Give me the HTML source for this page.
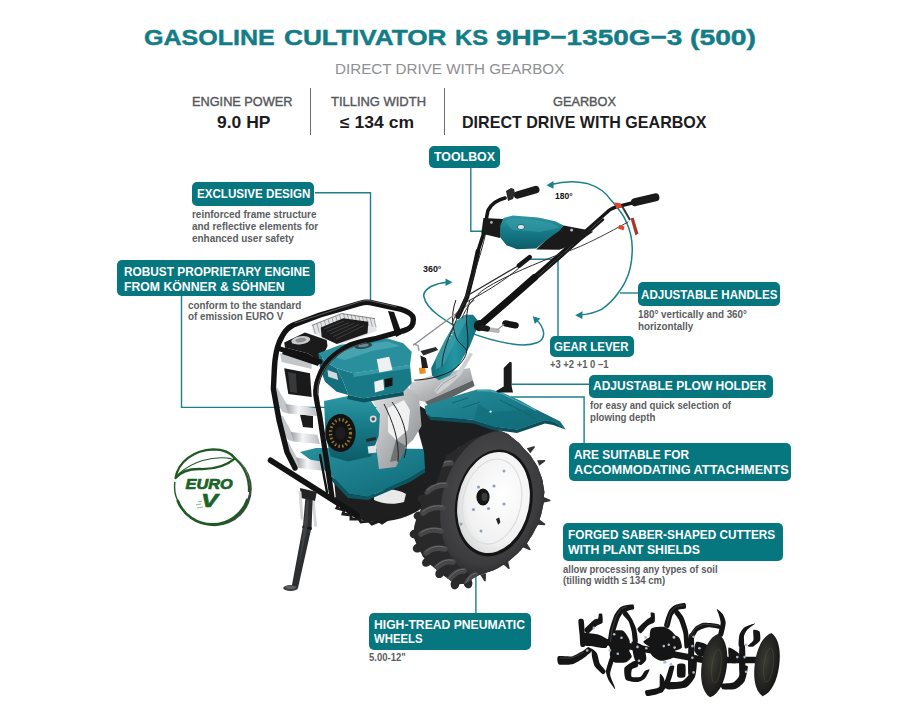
<!DOCTYPE html>
<html>
<head>
<meta charset="utf-8">
<title>Gasoline cultivator KS 9HP-1350G-3 (500)</title>
<style>
html,body{margin:0;padding:0;background:#fff;}
body{width:900px;height:713px;position:relative;overflow:hidden;font-family:"Liberation Sans",sans-serif;}
.t{position:absolute;white-space:nowrap;display:inline-block;transform-origin:0 50%;}
.b{position:absolute;background:#06767f;border-radius:5px;}
.vsep{position:absolute;width:1.3px;background:#6d6d6d;top:88px;height:47px;}
#art{position:absolute;left:0;top:0;}
</style>
</head>
<body>
<!--ART-->
<svg id="art" width="900" height="713" viewBox="0 0 900 713">
<defs>
<linearGradient id="tealV" x1="0" y1="0" x2="0" y2="1"><stop offset="0" stop-color="#2f98a5"/><stop offset="0.4" stop-color="#187e8b"/><stop offset="1" stop-color="#0c5c68"/></linearGradient>
<linearGradient id="tealH" x1="0" y1="0" x2="1" y2="0"><stop offset="0" stop-color="#0f6e7a"/><stop offset="0.5" stop-color="#2396a2"/><stop offset="1" stop-color="#0f6e7a"/></linearGradient>
<linearGradient id="tealF" x1="0" y1="0" x2="1" y2="1"><stop offset="0" stop-color="#2a8f9c"/><stop offset="0.55" stop-color="#187987"/><stop offset="1" stop-color="#0e6470"/></linearGradient>
<linearGradient id="silv" x1="0" y1="0" x2="1" y2="1"><stop offset="0" stop-color="#e8e8e8"/><stop offset="0.5" stop-color="#b4b6b8"/><stop offset="1" stop-color="#85888b"/></linearGradient>
<linearGradient id="strip" x1="0" y1="0" x2="1" y2="0"><stop offset="0" stop-color="#9a9ea3"/><stop offset="0.4" stop-color="#f4f5f6"/><stop offset="1" stop-color="#b9bcc0"/></linearGradient>
<radialGradient id="tire" cx="0.45" cy="0.45" r="0.6"><stop offset="0" stop-color="#565658"/><stop offset="0.78" stop-color="#3c3c3e"/><stop offset="1" stop-color="#262627"/></radialGradient>
<radialGradient id="hub" cx="0.6" cy="0.4" r="0.7"><stop offset="0" stop-color="#ffffff"/><stop offset="0.7" stop-color="#f1f1f1"/><stop offset="1" stop-color="#cfd0d1"/></radialGradient>
<radialGradient id="disc" cx="0.4" cy="0.45" r="0.7"><stop offset="0" stop-color="#3a3a36"/><stop offset="1" stop-color="#111"/></radialGradient>
<filter id="soft" x="-5%" y="-5%" width="110%" height="110%"><feGaussianBlur stdDeviation="0.5"/></filter>
<filter id="soft2" x="-5%" y="-5%" width="110%" height="110%"><feGaussianBlur stdDeviation="0.9"/></filter>
</defs>
<g id="lines" fill="none" stroke="#1a808a" stroke-width="1.4">
<path d="M470.8 167V231.2H502"/>
<path d="M315 192.8H370.5V303"/>
<path d="M181.5 296V407.4H399"/>
<path d="M558 336V259.2H530"/>
<path d="M638 293H620"/>
<path d="M590 384.2H512"/>
<path d="M584.1 443V397H511"/>
<path d="M475.9 613V573.4"/>
</g>
<g id="arcs" fill="none" stroke="#1a808a" stroke-width="1.5" stroke-linecap="round">
<path d="M551 184.6C565 181 578 181.5 587 183.4C599 187 607 194 611.4 200.6C618 208 623 214 626 221.3C631 232 632.6 241 632.2 250.7C632 262 630 272 626 280C624 285 621 289 618.7 292.2C614 299 608 305 601.6 309.4C594 313 587 314.6 580 315"/>
<path d="M447 282.2C441 282.6 436 284 431 286.5C425 290 423 293.5 424 297C425 302 430 309 438 315C447 322 457 327.5 467.3 331.6C481 337 497 341.6 512.2 344C521 345.4 530 345.4 536.9 342.8C541.5 341 544 337.5 543.6 332.7C543 328 540 323 536 319.5"/>
</g>
<g fill="#1a808a">
<path d="M546.5 185.2L553.5 181V188.8Z"/>
<path d="M575.2 315.2L582.5 311.2L582.3 318.9Z"/>
<path d="M452.5 282.2L445.5 278.4V286Z"/>
<path d="M532.8 316.2L540.2 318.6L534.8 324Z"/>
</g>
<g id="machine">
<g id="rearwheel">
<path d="M334 480C338 470 352 466 372 468L418 466L430 452L432 500L422 508C410 517 392 522 374 522C356 521 342 512 336 500Z" fill="#1e1e1f"/>
<path d="M374 492C386 488 398 489 406 494L404 502C394 505 382 504 374 500Z" fill="#e9e9e9"/>
<path d="M337 498l-4 3 6 3 -2 4 7 2 -1 4 8 1 0 4 8 0 2 3 8-1 3 3 7-3 3 2 6-4" fill="none" stroke="#1c1c1d" stroke-width="3"/>
</g>
<path d="M300 452L316 448L441 449L446 456L410 478L368 497L349 494L332 476Z" fill="url(#tealF)"/>
<path d="M332 476L349 494L368 497L410 478L446 456L446 459L410 482L368 500L348 498L330 479Z" fill="#0a5661"/>
<g id="wheel"><clipPath id="tireclip"><path d="M488.0 429.0C496.0 429.0 492.6 428.0 501.3 431.3C510.0 434.6 506.0 432.8 514.0 439.0C522.0 445.2 518.6 442.7 525.3 450.0C532.0 457.3 529.1 453.3 534.0 461.0C538.9 468.7 536.8 464.3 540.0 473.0C543.2 481.7 542.3 479.0 543.6 487.0C544.9 495.0 544.3 490.0 544.0 497.0C543.7 504.0 544.3 500.0 542.6 508.0C540.9 516.0 541.6 513.6 539.0 521.0C536.4 528.4 538.1 523.9 534.8 530.2C531.5 536.5 532.6 534.5 529.0 540.0C525.4 545.5 529.2 540.8 523.9 546.6C518.6 552.4 520.9 550.8 513.0 557.5C505.1 564.2 509.3 561.5 500.2 566.7C491.1 571.9 493.5 569.8 485.6 573.0C477.7 576.2 482.4 573.4 476.5 576.4C470.6 579.4 472.8 579.5 468.0 582.0C463.2 584.5 466.3 583.7 462.0 584.0C457.7 584.3 460.0 585.0 455.0 583.0C450.0 581.0 453.0 582.3 447.0 578.0C441.0 573.7 443.8 575.7 437.0 570.0C430.2 564.3 432.4 567.3 426.7 561.0C421.0 554.7 423.6 557.0 420.0 551.0C416.4 545.0 418.0 549.0 416.0 543.0C414.0 537.0 414.0 540.7 414.0 533.0C414.0 525.3 414.0 527.2 416.0 520.0C418.0 512.8 417.8 518.6 420.0 511.3C422.2 504.0 419.6 507.8 422.7 498.0C425.8 488.2 425.3 492.2 429.3 482.0C433.3 471.8 429.8 476.6 434.7 467.3C439.6 458.0 438.2 461.4 444.0 454.0C449.8 446.6 446.2 450.8 452.0 445.0C457.8 439.2 455.3 440.7 461.3 436.7C467.3 432.7 464.7 434.8 470.0 433.0C475.3 431.2 471.3 432.6 477.3 431.3C483.3 430.0 480.0 429.0 488.0 429.0Z"/></clipPath>
<path d="M-3 -3L4.6 -0.5L4.2 0.8L-3 3Z" fill="#333334" transform="translate(541 462) rotate(-20)"/><path d="M-3 -3L4.6 -0.5L4.2 0.8L-3 3Z" fill="#333334" transform="translate(546 500) rotate(5)"/><path d="M-3 -3L4.6 -0.5L4.2 0.8L-3 3Z" fill="#333334" transform="translate(541 523) rotate(20)"/><path d="M-3 -3L4.6 -0.5L4.2 0.8L-3 3Z" fill="#333334" transform="translate(527 547) rotate(40)"/><path d="M-3 -3L4.6 -0.5L4.2 0.8L-3 3Z" fill="#333334" transform="translate(507 565) rotate(58)"/><path d="M-3 -3L4.6 -0.5L4.2 0.8L-3 3Z" fill="#333334" transform="translate(484 577) rotate(75)"/><path d="M-3 -3L4.6 -0.5L4.2 0.8L-3 3Z" fill="#333334" transform="translate(531 449) rotate(-35)"/><ellipse cx="446" cy="452" rx="5.4" ry="4.4" fill="#2a2a2b" transform="rotate(-140 446 452)"/><ellipse cx="436" cy="467" rx="5.4" ry="4.4" fill="#2a2a2b" transform="rotate(-150 436 467)"/><ellipse cx="430" cy="482" rx="5.4" ry="4.4" fill="#2a2a2b" transform="rotate(-160 430 482)"/><ellipse cx="423" cy="499" rx="5.4" ry="4.4" fill="#2a2a2b" transform="rotate(-168 423 499)"/><ellipse cx="419" cy="516" rx="5.4" ry="4.4" fill="#2a2a2b" transform="rotate(-178 419 516)"/><ellipse cx="415" cy="534" rx="5.4" ry="4.4" fill="#2a2a2b" transform="rotate(175 415 534)"/><ellipse cx="418" cy="548" rx="5.4" ry="4.4" fill="#2a2a2b" transform="rotate(160 418 548)"/><ellipse cx="427" cy="562" rx="5.4" ry="4.4" fill="#2a2a2b" transform="rotate(140 427 562)"/><ellipse cx="440" cy="573" rx="5.4" ry="4.4" fill="#2a2a2b" transform="rotate(125 440 573)"/><ellipse cx="455" cy="584" rx="5.4" ry="4.4" fill="#2a2a2b" transform="rotate(100 455 584)"/><ellipse cx="468" cy="583" rx="5.4" ry="4.4" fill="#2a2a2b" transform="rotate(80 468 583)"/>
<path d="M488.0 429.0C496.0 429.0 492.6 428.0 501.3 431.3C510.0 434.6 506.0 432.8 514.0 439.0C522.0 445.2 518.6 442.7 525.3 450.0C532.0 457.3 529.1 453.3 534.0 461.0C538.9 468.7 536.8 464.3 540.0 473.0C543.2 481.7 542.3 479.0 543.6 487.0C544.9 495.0 544.3 490.0 544.0 497.0C543.7 504.0 544.3 500.0 542.6 508.0C540.9 516.0 541.6 513.6 539.0 521.0C536.4 528.4 538.1 523.9 534.8 530.2C531.5 536.5 532.6 534.5 529.0 540.0C525.4 545.5 529.2 540.8 523.9 546.6C518.6 552.4 520.9 550.8 513.0 557.5C505.1 564.2 509.3 561.5 500.2 566.7C491.1 571.9 493.5 569.8 485.6 573.0C477.7 576.2 482.4 573.4 476.5 576.4C470.6 579.4 472.8 579.5 468.0 582.0C463.2 584.5 466.3 583.7 462.0 584.0C457.7 584.3 460.0 585.0 455.0 583.0C450.0 581.0 453.0 582.3 447.0 578.0C441.0 573.7 443.8 575.7 437.0 570.0C430.2 564.3 432.4 567.3 426.7 561.0C421.0 554.7 423.6 557.0 420.0 551.0C416.4 545.0 418.0 549.0 416.0 543.0C414.0 537.0 414.0 540.7 414.0 533.0C414.0 525.3 414.0 527.2 416.0 520.0C418.0 512.8 417.8 518.6 420.0 511.3C422.2 504.0 419.6 507.8 422.7 498.0C425.8 488.2 425.3 492.2 429.3 482.0C433.3 471.8 429.8 476.6 434.7 467.3C439.6 458.0 438.2 461.4 444.0 454.0C449.8 446.6 446.2 450.8 452.0 445.0C457.8 439.2 455.3 440.7 461.3 436.7C467.3 432.7 464.7 434.8 470.0 433.0C475.3 431.2 471.3 432.6 477.3 431.3C483.3 430.0 480.0 429.0 488.0 429.0Z" fill="#29292a"/>
<g clip-path="url(#tireclip)">
<g transform="rotate(13 493 503)"><ellipse cx="493.4" cy="504" rx="51.6" ry="74" fill="url(#tire)"/></g>
<path d="M449 440Q456 432 464 433" stroke="#474749" stroke-width="5.6" fill="none" stroke-linecap="round"/><path d="M449 438.2Q456 430 464 431.2" stroke="#6c6c6e" stroke-width="1" fill="none" stroke-linecap="round"/><path d="M440 455Q448 446 457 446" stroke="#474749" stroke-width="5.6" fill="none" stroke-linecap="round"/><path d="M440 453.2Q448 444 457 444.2" stroke="#6c6c6e" stroke-width="1" fill="none" stroke-linecap="round"/><path d="M433 472Q441 462 451 463" stroke="#474749" stroke-width="5.6" fill="none" stroke-linecap="round"/><path d="M433 470.2Q441 461 451 461.2" stroke="#6c6c6e" stroke-width="1" fill="none" stroke-linecap="round"/><path d="M427 492Q436 484 446 485" stroke="#474749" stroke-width="5.6" fill="none" stroke-linecap="round"/><path d="M427 490.2Q436 482 446 483.2" stroke="#6c6c6e" stroke-width="1" fill="none" stroke-linecap="round"/><path d="M423 513Q432 506 443 508" stroke="#474749" stroke-width="5.6" fill="none" stroke-linecap="round"/><path d="M423 511.2Q432 504 443 506.2" stroke="#6c6c6e" stroke-width="1" fill="none" stroke-linecap="round"/><path d="M421 534Q430 528 441 531" stroke="#474749" stroke-width="5.6" fill="none" stroke-linecap="round"/><path d="M421 532.2Q430 526 441 529.2" stroke="#6c6c6e" stroke-width="1" fill="none" stroke-linecap="round"/><path d="M426 553Q434 546 445 549" stroke="#474749" stroke-width="5.6" fill="none" stroke-linecap="round"/><path d="M426 551.2Q434 544 445 547.2" stroke="#6c6c6e" stroke-width="1" fill="none" stroke-linecap="round"/><path d="M436 568Q444 560 453 562" stroke="#474749" stroke-width="5.6" fill="none" stroke-linecap="round"/><path d="M436 566.2Q444 558 453 560.2" stroke="#6c6c6e" stroke-width="1" fill="none" stroke-linecap="round"/><path d="M449 580Q456 570 464 571" stroke="#474749" stroke-width="5.6" fill="none" stroke-linecap="round"/><path d="M449 578.2Q456 569 464 569.2" stroke="#6c6c6e" stroke-width="1" fill="none" stroke-linecap="round"/><path d="M466 585Q470 575 476 575" stroke="#474749" stroke-width="5.6" fill="none" stroke-linecap="round"/><path d="M466 583.2Q470 573 476 573.2" stroke="#6c6c6e" stroke-width="1" fill="none" stroke-linecap="round"/>
</g>
<g transform="rotate(12 494 502)">
<ellipse cx="494" cy="503" rx="38.2" ry="54" fill="#151516"/>
<ellipse cx="493.6" cy="502.6" rx="35.6" ry="51" fill="url(#hub)"/>
<ellipse cx="492" cy="502" rx="29" ry="43" fill="none" stroke="#dcddde" stroke-width="1.2"/>
</g>
<ellipse cx="483" cy="497" rx="6.6" ry="8.6" fill="#151515"/>
<ellipse cx="484.5" cy="497" rx="3" ry="4.2" fill="#3a3a3a"/>
<path d="M496 519l3.2-1.4 1.2 4.6 -2.2 2.6z" fill="#222"/>
<g fill="#8fa3b8">
<circle cx="478.5" cy="487" r="1.6"/><circle cx="494" cy="486" r="1.6"/><circle cx="504" cy="471" r="1.5"/>
<circle cx="473.5" cy="509.5" r="1.6"/><circle cx="488.5" cy="508.5" r="1.6"/><circle cx="504" cy="504" r="1.6"/>
<circle cx="461" cy="524" r="1.5"/><circle cx="481" cy="531" r="1.5"/>
</g>
</g>
<path d="M409.6 383.3L435.8 374L469.8 367.9L472.9 380.2L455.9 387.9L425 401.8L411.2 398.7Z" fill="url(#silv)"/>
<path d="M425 401.8L455.9 387.9L472.9 380.2L474.6 386L430 408Z" fill="#5f6366"/>
<path d="M420 406L430 412L470 420L500 428L470 440L446 456L436 484L426 486L424 452L418 430Z" fill="#1d1e1f"/>
<path d="M371 398L406 386L419 396L421.5 426L413 440L406 446L396 467L379 469L376 446L380 414Z" fill="url(#silv)"/>
<path d="M388 408L404 400L410 410L408 430L396 440L388 432Z" fill="#f1f1f1"/>
<path d="M396 440l10 6 -6 14 -10 2z" fill="#6f7376"/>
<path d="M384 404C392 420 400 440 398 462M392 402C404 418 410 440 404 458" fill="none" stroke="#222" stroke-width="1"/>
<path d="M324 401L348 396L371 401L380 414L378.6 436L371 456.5L348 461.6L330.6 456.5L325.6 436Z" fill="url(#tealV)"/>
<ellipse cx="340.5" cy="433" rx="15.2" ry="19" fill="#121212"/>
<ellipse cx="340.5" cy="433" rx="10" ry="13.4" fill="none" stroke="#8a7430" stroke-width="3.2" stroke-dasharray="1.6 2.2"/>
<ellipse cx="340.5" cy="433" rx="5" ry="6.6" fill="#1d1d1d"/>
<circle cx="373.2" cy="419" r="3.4" fill="#d9dadb"/><circle cx="373.2" cy="419" r="1.8" fill="#4a4d50"/>
<rect x="368" y="446" width="8" height="7" fill="#e4e6e8" transform="rotate(-8 372 449)"/>
<rect x="366" y="438" width="10" height="3" fill="#27292b" transform="rotate(-12 371 439)"/>
<path d="M284.2 368.3L310 373.3L311.7 397L288.3 394Z" fill="#1a1a1b"/>
<path d="M288 372L296 373.6L297 393L290 392Z" fill="#38393a"/>
<path d="M280 353.3L311.7 363.3L311.7 369L281.7 362Z" fill="#c3c6c9"/>
<path d="M284.2 342.5L305 332.5L326.7 340L327.5 346L320 362L308.3 353.5L285 347.5Z" fill="#1b1b1c"/>
<path d="M285 347.5L308.3 353.5L320 362L318 366L282 354Z" fill="#121213"/>
<ellipse cx="300.8" cy="340.3" rx="9.6" ry="4" fill="#c8cacb" transform="rotate(-8 300.8 340.3)"/><ellipse cx="300.8" cy="340.1" rx="5.4" ry="2.2" fill="#8d9092" transform="rotate(-8 300.8 340.1)"/>
<path d="M388 311L394 312L402 334L396 337Z" fill="#151516"/>
<path d="M311.6 325L341.6 313.3L375 318.3L376.6 331L340 345L313 333Z" fill="#e3e4e5"/>
<path d="M313.0 325.0L315.4 334.0" stroke="#77797b" stroke-width="0.6"/><path d="M316.8 323.5L319.2 332.5" stroke="#77797b" stroke-width="0.6"/><path d="M320.6 322.1L323.0 331.1" stroke="#77797b" stroke-width="0.6"/><path d="M324.4 320.6L326.8 329.6" stroke="#77797b" stroke-width="0.6"/><path d="M328.2 319.2L330.6 328.2" stroke="#77797b" stroke-width="0.6"/><path d="M332.0 317.7L334.4 326.7" stroke="#77797b" stroke-width="0.6"/><path d="M335.8 316.2L338.2 325.2" stroke="#77797b" stroke-width="0.6"/><path d="M339.6 314.8L342.0 323.8" stroke="#77797b" stroke-width="0.6"/><path d="M343.4 313.3L345.8 322.3" stroke="#77797b" stroke-width="0.6"/><path d="M347.2 313.9L349.6 322.9" stroke="#77797b" stroke-width="0.6"/><path d="M351.0 314.6L353.4 323.6" stroke="#77797b" stroke-width="0.6"/><path d="M354.8 315.2L357.2 324.2" stroke="#77797b" stroke-width="0.6"/><path d="M358.6 315.8L361.0 324.8" stroke="#77797b" stroke-width="0.6"/><path d="M362.4 316.4L364.8 325.4" stroke="#77797b" stroke-width="0.6"/><path d="M366.2 317.0L368.6 326.0" stroke="#77797b" stroke-width="0.6"/><path d="M370.0 317.7L372.4 326.7" stroke="#77797b" stroke-width="0.6"/><path d="M373.8 318.3L376.2 327.3" stroke="#77797b" stroke-width="0.6"/>
<path d="M312 325.4L341.6 313.6L375 318.6" fill="none" stroke="#6c6e70" stroke-width="0.8"/>
<path d="M320.8 327.5L343.3 318.3L368.3 321.7L367.5 333.3L336.7 344L321.7 337Z" fill="#1c1c1d"/>
<path d="M324 329L344 321M327 331.6L349 322.6M330 334L354 323.4M333 336.6L359 324.4M336 339L364 325.6" stroke="#3f3f41" stroke-width="1"/>
<path d="M318.3 353.3L325 361.7L336.7 368.3L343.3 381.7L348.3 395L336.7 391.7L325 381.7L320 368.3Z" fill="#146e7b"/>
<path d="M336.7 368.3L353.3 373.3L410 365L411.7 383.3L403.3 391.7L363.3 398.3L348.3 395L343.3 381.7Z" fill="#187987"/>
<path d="M318.3 353.3L340 345L363.3 340.8L386.7 338.3L403.3 343.3L411.7 351.7L410 365L353.3 373.3L336.7 368.3L325 361.7Z" fill="#2a8f9d"/>
<path d="M330 356L364 344L388 341.6L400 346L372 351L345 360Z" fill="#5cb6c1" opacity="0.55"/>
<path d="M353.3 373.3L410 365L410 368.6L353.6 377Z" fill="#3da0ac" opacity="0.8"/>
<path d="M348.3 395L363.3 398.3L403.3 391.7L404 395.6L363.6 402.4L347 399Z" fill="#0b5560"/>
<path d="M376.7 359.2L389.2 356.7L392.5 370L379.2 372.5Z" fill="#eef0f1"/>
<path d="M374.2 381.7L383.3 379.2L384.2 390L375 392.5Z" fill="#eef0f1"/>
<path d="M384.4 379.2L392.5 377.5L392.5 385.8L385 387.5Z" fill="#141415"/>
<path d="M327.5 370L336.7 373.3L338.3 380L328.3 376.7Z" fill="#d3d9dd"/>
<ellipse cx="363.3" cy="345.8" rx="9" ry="3" fill="#2b4a50" transform="rotate(-8 363.3 345.8)"/>
<ellipse cx="363.3" cy="345.4" rx="5.4" ry="1.7" fill="#5d8f97" transform="rotate(-8 363.3 345.4)"/>
<g id="strips">
<path d="M300 414.6L313 416L313 428L303 427Z" fill="#1b1b1c"/>
<path d="M272 386.6L277.4 388L286.8 404L288 413.4L282.6 412L273.4 397.4Z" fill="#c4c7ca"/>
<path d="M285.4 404L314.8 408L317.4 416L288 413.4Z" fill="url(#strip)"/>
<path d="M277.4 414.6L282.8 416L291.6 432L293.4 441.4L288 440L278.8 425.4Z" fill="#c4c7ca"/>
<path d="M290.8 432L317.4 434.8L320 444L293.4 441.4Z" fill="url(#strip)"/>
<path d="M282.8 440L288 441.4L296.8 457.4L298.8 468L293.4 465.4L284 450.8Z" fill="#c4c7ca"/>
<path d="M296 457.4L321.4 461.4L324 470.8L298.8 468Z" fill="url(#strip)"/>
</g>
<g id="frame" fill="none" stroke="#131314" stroke-linecap="round" stroke-linejoin="round">
<path d="M295 468L287 452L279 420L273.4 389L274.2 372C274.6 358 276 346 282.5 335.6C285 331 289 327 293.3 325L320 315L360 303.3C364 302.2 367 302 370 302.5L396.7 308.3C402 309.4 406 310.6 408.3 312.5C412 314.6 413.6 316.6 413.3 319.6C413.4 322 413 324 411.7 325.8C410 328.4 407 329.8 403.3 330.8" stroke-width="5.4"/>
<path d="M278.3 348.3L320 361.7" stroke-width="5"/>
<path d="M332 497L319.4 413.6L317.5 405L315.8 395C315.4 389 316.4 383.6 318.3 378.3C320 373 322 369 325 365C328 360.4 332 356.6 336.7 353.3C341 350 345 347.4 350 345C358 342 367 340.4 376.7 338.3L403.3 330.8" stroke-width="5.2"/>
<path d="M270.6 460.4L357 515.2" stroke-width="5.8"/>
<path d="M320 455L327 492" stroke-width="2.4"/>
</g>
<path d="M295 323L360 301.6C364 300.6 367 300.4 370 300.8L396 306.6" fill="none" stroke="#5c5c5e" stroke-width="1" stroke-linecap="round"/>
<path d="M317.6 394C317.4 388 318.4 383 320 378.6C322 372 327 363 338 354.6C346 349 356 345 366 342.6" fill="none" stroke="#5a5a5c" stroke-width="1" stroke-linecap="round"/>
<g id="stand">
<path d="M300 488L316.8 492L315 501L301 498Z" fill="#222324"/>
<path d="M298.6 491L301.4 491.4L303.4 519.6L300.6 519.6Z" fill="#d4d6d8"/>
<path d="M312 500.6L314.8 501L317 526.6L314.2 526.8Z" fill="#d4d6d8"/>
<path d="M305.4 498L312.6 500L311.6 527L298 588L291.6 587L303 526Z" fill="#2d2e2f"/>
<path d="M302.6 525.4L312 527.6L311.6 530L302.2 528Z" fill="#18191a"/>
<path d="M306.6 500L308.6 500.6L307.6 526L299 566Z" fill="#4a4b4d" opacity="0.7"/>
<ellipse cx="290.6" cy="588" rx="7.4" ry="3" fill="#3a3b3c"/>
<ellipse cx="290.6" cy="587.2" rx="5.2" ry="1.8" fill="#606163"/>
</g>
<path d="M424.6 406L450 397.5L477 389.4L490 389.6L502 392.4L520 400.6L536 409.4L560 421.6L565.6 429.6L554.2 421.8L545 420L517.2 429.4L492.5 426.3L474 420L430.8 417L426.2 414Z" fill="url(#tealF)"/>
<path d="M478 404L492.5 412L536 409.4L560 421.6L565.6 429.6L554.2 421.8L545 420L517.2 429.4L492.5 426.3L474 420Z" fill="#136f7c" opacity="0.75"/>
<path d="M426.2 414L430.8 417L474 420L492.5 426.3L517.2 429.4L545 420L554.2 421.8L565.6 429.6L553 425L545 423.4L517 433L492 429.8L473.6 423.4L430.4 420Z" fill="#0a4f5a"/>
<path d="M477 390.6L490 390.8L502 393.6L536 410.4" fill="none" stroke="#55b3be" stroke-width="1.2" opacity="0.8"/>
<path d="M452 403L468 398M462 408L480 402M500 400L512 406M508 404L522 411M524 412L536 419" fill="none" stroke="#0f636e" stroke-width="0.9"/>
<circle cx="490.6" cy="411.6" r="1.2" fill="#cfe3e6"/>
<path d="M503.7 367.9L509.9 361.7L511.7 362.5L511.7 386.4L513 392.5L497.6 392.5L496 391L503.7 386.4Z" fill="#1b1b1c"/>
<path d="M431.2 367.9L435.8 358.6L445.1 340.1L455.9 321.6L465.2 314.7L472.9 314.7L477.5 320.1L476 330.8L469.8 346.3L459 364.8L449.7 375.6L438.9 380.2L432 375.6Z" fill="url(#tealH)"/>
<path d="M445.1 340.1L455.9 321.6L465.2 314.7L466.8 320L456 340L443.6 364.8L435.8 369.4L435.8 358.6Z" fill="#3b9eaa" opacity="0.75"/>
<path d="M449 338l1.4 0M451 334.6l1.4 0M453 331.2l1.4 0" stroke="#d4e6ea" stroke-width="1.2"/>
<path d="M434.3 391L442 381.8L455.9 374L469.8 352.4L472.9 354L460.5 375.6L448.2 386.4L437.4 394.1Z" fill="#cdd1d4"/>
<path d="M436 391.6L443 383.4L456.6 375.4" fill="none" stroke="#8b9095" stroke-width="0.8"/>
<path d="M418.9 367.9L425 367.1L425.8 373.3L419.7 374Z" fill="#f08a1c"/>
<path d="M420.4 350.9L435.8 347L438.2 350.1L423.5 355.5Z" fill="#2a2b2c"/>
<path d="M420.4 355.5L426 358L428.1 367.9L422 367.9Z" fill="#1e1f20"/>
<path d="M413.5 344L418 345.6L419 351" fill="none" stroke="#9da1a4" stroke-width="1.6"/>
<path d="M455.9 300C453 308 452 316 452.8 323.1C453.6 330 455 336 457.4 340.1C461 345 466 348 466.7 350.9C466 358 461 363 455.9 367.9C450 372.6 443 375 435.8 377.1C428 379 420 380 414.3 380.2" fill="none" stroke="#1c1c1d" stroke-width="1"/>
<path d="M469.8 300C467 310 466 318 466.7 325C467.6 333 469 342 466.7 350.9" fill="none" stroke="#1c1c1d" stroke-width="1"/>
<g id="handles" fill="none" stroke-linecap="round" stroke-linejoin="round">
<path d="M413.6 345L474 300.2" stroke="#8b8e91" stroke-width="1.4"/>
<path d="M505 198C498 199.6 492 203 488 210.4C486 218 486 224 485.4 228L478 251L473.2 272.8L467 297L457.4 317" stroke="#161617" stroke-width="3.6"/>
<path d="M478 251L473.2 272.8L467 297L458 316.6" stroke="#161617" stroke-width="4.6"/>
<path d="M632 203L616.4 206.8C612 208 609 210 606.4 212.8L565 249.6L533 277.6" stroke="#161617" stroke-width="3.4"/>
<path d="M603 219.6L562 256L534 280.6" stroke="#161617" stroke-width="2.4"/>
<path d="M534.6 277.4L506.2 302.4L481.4 323.8" stroke="#121213" stroke-width="7"/>
<path d="M517 266.4L465 297" stroke="#2b2b2c" stroke-width="1.2"/>
<path d="M519 268C505 280 486 292 470 300C462 304 456 312 452 324" stroke="#2b2b2c" stroke-width="1"/>
<path d="M560 254C540 262 505 276 486 288C474 296 466 308 462 318" stroke="#2b2b2c" stroke-width="1"/>
<path d="M486 232C480 258 470 290 452 330C446 344 442 356 442 366" stroke="#2b2b2c" stroke-width="1"/>
<path d="M628 222C610 232 584 246 566 252" stroke="#2b2b2c" stroke-width="0.9"/>
</g>
<path d="M517.4 195L535.8 189.6" stroke="#1a1a1b" stroke-width="7.4" stroke-linecap="round" fill="none"/>
<path d="M635 202.2L655.4 197.4" stroke="#1a1a1b" stroke-width="8" stroke-linecap="round" fill="none"/>
<path d="M506 191l5-3 3 1 1 4 -2 6 -5 2z" fill="#2a2a2b"/>
<path d="M519 265.6L529.6 257.2" stroke="#161617" stroke-width="4.6" stroke-linecap="round" fill="none"/>
<circle cx="479.4" cy="325.6" r="5.6" fill="#141415"/>
<path d="M482.1 328.5L497.5 330.8" stroke="#b4b7b9" stroke-width="4.6" stroke-linecap="round" fill="none"/>
<path d="M482 327.8L487 328.6" stroke="#1a1a1b" stroke-width="6" stroke-linecap="round" fill="none"/>
<path d="M505.4 323.4L515.6 325.3" stroke="#161617" stroke-width="6.4" stroke-linecap="round" fill="none"/>
<path d="M497 330L504 324.6" stroke="#9a9da0" stroke-width="1.2" fill="none"/>
<path d="M614.6 202.4l6 .8 1.6 4 -6 1.4z" fill="#e2452a"/>
<path d="M619 225l5.6 1.6 -1 3.6 -5.4-1.4z" fill="#e2452a"/>
<path d="M630.6 218.4L633.6 217.6L638.4 233.6L635.4 235.4Z" fill="#a23a2c"/>
<path d="M622 206L630 220" stroke="#3a3a3b" stroke-width="2" fill="none"/>
<path d="M483.4 218L503.5 219L499.9 238L481.3 233.6Z" fill="#1a1a1b"/>
<path d="M544.7 241.2L563.7 225.4L584.8 229.6L593.2 231.7L576.3 243.3L559.4 249.7L536.2 249.4Z" fill="#1a1a1b"/>
<path d="M503.5 218L513 215.5L538.3 217.6L555.2 221.2L563.7 225.4L559.4 230.7L544.7 241.2L536.2 248.6L517.2 249.2L506.7 245.4L499.9 237L500.3 225.4Z" fill="url(#tealV)"/>
<path d="M505 221L512 218.4L531 219.6L552 223L560 227.4L540 232L512 230Z" fill="#3a9eaa" opacity="0.55"/>
<ellipse cx="521" cy="227" rx="3.6" ry="2.6" fill="#d9e6e8" stroke="#0d5b66" stroke-width="0.8"/>
<circle cx="491.4" cy="222.4" r="1.3" fill="#b9bcbe"/><circle cx="571.6" cy="230" r="1.5" fill="#b9bcbe"/>
</g>
<g id="cutters" fill="#151515">
<path d="M578.5 619.9C578.9 618.3 582.9 618.3 583.6 619.9C584.2 621.4 584.6 631.7 584.7 634.5C584.9 637.3 585.5 644.9 585.0 646.1C584.6 647.4 581.2 647.4 580.6 646.1C580.1 644.9 579.9 637.3 579.6 634.5C579.4 631.7 578.0 621.4 578.5 619.9Z"/>
<path d="M558.0 656.4C559.4 655.5 569.2 657.0 571.9 656.4C574.6 655.7 581.8 651.5 583.6 650.5C585.3 649.6 587.3 647.3 588.2 647.3C589.2 647.3 593.1 649.1 592.6 650.2C592.1 651.4 585.6 656.6 583.6 658.1C581.5 659.6 576.0 663.3 573.3 663.9C570.7 664.6 560.7 665.3 559.0 664.5C557.4 663.7 556.7 657.2 558.0 656.4Z"/>
<path d="M584.3 629.4C584.9 627.9 592.3 621.1 593.8 619.9C595.2 618.7 597.6 619.0 598.1 618.4C598.7 617.8 598.5 614.5 598.9 614.0C599.3 613.6 601.7 613.1 602.1 614.0C602.5 615.0 603.1 621.6 602.5 622.8C601.9 624.0 598.2 624.6 596.7 625.7C595.2 626.8 589.5 632.9 588.2 633.3C586.9 633.7 583.7 630.8 584.3 629.4Z"/>
<path d="M581.4 633.0C583.1 631.9 595.3 633.7 598.1 634.5C601.0 635.3 607.5 638.9 608.4 640.3C609.2 641.7 607.6 647.2 606.0 647.9C604.5 648.6 596.3 646.8 593.8 646.4C591.2 646.1 583.4 646.4 582.1 645.0C580.8 643.5 579.7 634.1 581.4 633.0Z"/>
<path d="M608.1 642.5C607.7 641.1 608.9 633.0 609.5 630.1C610.2 627.2 613.1 617.9 614.2 615.5C615.3 613.1 618.8 608.6 620.0 607.5C621.3 606.4 624.5 605.6 625.9 605.3C627.3 605.0 632.3 604.2 633.2 604.6C634.0 605.0 634.5 608.5 634.0 609.1C633.6 609.7 630.0 610.1 628.8 610.5C627.6 611.0 624.0 611.9 623.0 612.9C621.9 613.9 619.7 617.7 618.9 619.9C618.0 622.0 615.4 630.5 614.8 633.0C614.2 635.5 614.0 642.5 613.3 643.5C612.6 644.5 608.5 643.9 608.1 642.5Z"/>
<path d="M625.9 610.4C626.8 610.8 630.6 616.5 631.7 618.4C632.8 620.4 635.4 626.1 636.1 628.6C636.7 631.1 638.1 640.0 637.8 641.8C637.6 643.5 634.1 646.1 633.5 645.0C632.8 643.9 632.2 634.1 631.7 631.6C631.2 629.0 629.5 623.2 628.5 621.3C627.5 619.5 622.9 615.5 622.7 614.3C622.4 613.2 624.9 610.0 625.9 610.4Z"/>
<path d="M592.0 649.1C592.5 648.8 596.1 651.9 597.0 653.4C597.8 655.0 599.0 661.8 599.9 663.7C600.8 665.5 605.4 669.8 605.7 671.0C606.0 672.1 604.0 674.6 602.8 674.2C601.7 673.7 596.1 668.5 594.9 666.6C593.8 664.7 592.3 658.2 592.0 656.4C591.7 654.5 591.5 649.4 592.0 649.1Z"/>
<path d="M610.5 656.4C611.5 655.0 614.5 656.0 614.5 657.8C614.4 659.7 610.1 670.9 610.1 673.9C610.1 676.8 613.7 683.9 614.2 685.5C614.7 687.2 615.7 690.0 615.1 689.3C614.4 688.7 609.3 681.7 608.4 679.7C607.4 677.7 605.8 673.4 606.0 671.0C606.3 668.5 609.6 657.8 610.5 656.4Z"/>
<path d="M624.4 668.0C625.0 666.2 630.3 663.0 631.7 662.2C633.1 661.4 637.2 660.3 637.8 660.7C638.5 661.2 638.5 665.6 637.8 666.6C637.2 667.5 632.6 668.4 632.0 669.5C631.3 670.6 630.8 676.0 631.7 676.8C632.6 677.6 639.1 677.4 640.5 676.8C641.9 676.2 643.9 671.7 644.8 671.0C645.8 670.2 649.5 668.7 649.5 669.5C649.5 670.3 646.4 676.9 645.1 678.2C643.9 679.6 639.6 681.9 637.5 682.0C635.5 682.2 627.3 681.2 625.9 679.7C624.5 678.2 623.8 669.9 624.4 668.0Z"/>
<path d="M645.6 690.6C646.7 689.8 655.9 688.9 658.0 687.7C660.1 686.6 664.0 682.0 665.3 679.7C666.5 677.4 668.7 668.0 669.6 666.6C670.6 665.2 674.3 664.9 674.3 666.6C674.3 668.3 671.4 679.8 669.9 682.6C668.5 685.4 663.3 691.4 660.9 692.8C658.4 694.3 648.7 696.3 647.0 696.0C645.4 695.8 644.4 691.5 645.6 690.6Z"/>
<path d="M637.5 628.6C638.1 627.2 644.9 621.1 646.3 619.9C647.7 618.6 650.2 617.7 650.7 617.0C651.1 616.2 650.3 613.0 650.7 612.6C651.1 612.2 654.1 612.3 654.5 613.3C654.9 614.3 655.2 620.8 654.5 622.1C653.7 623.4 649.2 624.5 647.8 625.7C646.3 626.9 641.8 633.0 640.7 633.3C639.7 633.6 636.9 630.1 637.5 628.6Z"/>
<path d="M612.7 646.1C614.4 645.4 623.8 646.5 625.9 647.6C627.9 648.7 631.7 654.8 631.7 656.4C631.7 657.9 627.7 661.6 625.9 662.2C624.0 662.8 615.9 663.0 614.2 662.2C612.5 661.4 610.0 656.6 609.8 654.9C609.7 653.2 611.0 646.9 612.7 646.1Z"/>
<path d="M643.4 641.8C643.7 640.4 652.6 635.4 655.0 634.5C657.5 633.5 664.9 632.5 666.7 633.0C668.6 633.5 672.6 637.5 672.6 638.9C672.6 640.3 668.9 645.2 666.7 646.1C664.5 647.1 654.6 648.1 652.1 647.6C649.6 647.1 643.1 643.2 643.4 641.8Z"/>
<path d="M631.7 641.8C632.6 640.4 641.8 644.3 643.4 646.1C644.9 648.0 646.6 657.3 646.3 659.3C646.0 661.3 641.7 665.1 640.5 665.1C639.2 665.1 635.6 661.8 634.6 659.3C633.7 656.8 630.8 643.2 631.7 641.8Z"/>
<path d="M611.3 631.6C612.8 630.4 621.0 629.9 623.0 630.8C624.9 631.8 628.9 637.9 629.5 640.3C630.1 642.7 629.8 651.7 628.8 653.4C627.8 655.2 621.8 657.1 620.0 657.1C618.2 657.1 613.3 655.1 612.0 653.4C610.8 651.8 608.4 644.1 608.4 641.8C608.3 639.4 609.7 632.7 611.3 631.6Z"/>
<path d="M650.7 629.4C652.2 626.6 662.6 626.5 665.3 627.2C667.9 627.9 674.5 632.8 675.5 635.9C676.4 639.0 675.6 653.7 674.0 656.4C672.5 659.0 663.4 661.0 660.9 660.7C658.4 660.4 651.8 656.8 650.7 653.4C649.6 650.1 649.1 632.2 650.7 629.4Z"/>
<path d="M664.1 625.7C664.0 624.0 667.3 613.6 668.5 611.4C669.6 609.2 672.8 606.2 674.6 605.3C676.3 604.4 683.6 602.8 684.8 603.1C686.0 603.4 686.5 607.5 685.7 608.2C684.9 608.9 678.9 609.2 677.5 610.0C676.1 610.7 673.5 613.6 672.5 615.5C671.6 617.4 669.9 626.4 669.0 627.5C668.1 628.6 664.1 627.4 664.1 625.7Z"/>
<path d="M677.5 609.7C678.5 610.1 682.3 614.8 683.3 617.0C684.4 619.1 687.1 627.0 687.7 630.1C688.4 633.2 689.8 644.2 689.5 646.1C689.2 648.0 685.5 649.3 684.8 647.9C684.1 646.5 684.0 636.0 683.3 633.0C682.7 630.0 679.9 622.0 679.0 619.9C678.0 617.7 674.5 614.0 674.3 612.9C674.1 611.8 676.5 609.2 677.5 609.7Z"/>
<path d="M689.2 636.2C689.4 634.9 693.5 628.6 695.0 627.2C696.6 625.7 701.3 623.1 703.8 622.8C706.3 622.5 716.5 623.6 718.4 624.3C720.3 624.9 722.7 628.6 721.6 628.9C720.5 629.2 710.7 627.0 708.1 627.2C705.6 627.4 699.6 629.7 697.9 631.0C696.3 632.2 693.9 638.6 693.0 639.1C692.0 639.7 689.0 637.5 689.2 636.2Z"/>
<path d="M716.9 608.9C717.3 608.9 721.8 612.6 722.7 614.0C723.7 615.5 725.7 620.4 725.7 622.8C725.7 625.2 723.5 635.0 722.7 636.2C722.0 637.5 718.6 635.9 718.4 634.5C718.1 633.0 720.7 625.0 720.7 622.8C720.7 620.7 719.1 615.8 718.7 614.3C718.2 612.9 716.5 609.0 716.9 608.9Z"/>
<path d="M665.8 682.6C667.4 681.8 679.4 682.1 681.9 681.2C684.4 680.2 688.1 676.0 689.2 673.9C690.3 671.7 691.3 662.0 692.1 660.7C692.9 659.5 696.5 660.5 696.8 662.2C697.1 663.9 696.1 674.1 695.0 676.8C693.9 679.5 689.2 686.0 686.3 687.3C683.3 688.6 669.5 689.8 667.3 689.3C665.1 688.8 664.3 683.5 665.8 682.6Z"/>
<path d="M721.3 684.1C722.4 683.4 731.1 683.4 733.0 682.6C734.8 681.8 737.9 678.5 738.8 676.8C739.7 675.1 740.7 667.7 741.7 666.6C742.7 665.5 747.5 665.0 747.8 666.6C748.1 668.1 745.9 678.8 744.6 681.2C743.3 683.5 738.2 687.9 735.9 688.7C733.5 689.6 724.3 689.8 722.7 689.3C721.2 688.8 720.2 684.8 721.3 684.1Z"/>
<path d="M738.8 646.1C738.3 644.7 738.9 636.5 739.5 634.5C740.1 632.5 743.0 628.3 744.6 627.2C746.3 626.0 754.8 623.3 755.1 623.5C755.4 623.8 748.7 628.2 747.5 629.5C746.4 630.8 744.4 634.0 744.0 635.9C743.7 637.9 744.6 646.5 744.0 647.6C743.5 648.7 739.3 647.5 738.8 646.1Z"/>
<path d="M753.4 630.1C754.0 629.2 758.8 630.5 759.5 631.6C760.2 632.6 760.7 638.7 760.1 640.3C759.4 641.9 754.7 645.8 753.4 646.4C752.0 647.1 747.5 646.8 747.5 646.1C747.5 645.5 752.8 642.0 753.4 640.3C754.0 638.6 752.7 631.0 753.4 630.1Z"/>
<path d="M688.9 635.9C689.5 631.9 693.3 631.9 693.8 635.9C694.4 640.0 694.4 669.8 693.8 673.9C693.3 677.9 688.8 677.9 688.3 673.9C687.8 669.8 688.3 640.0 688.9 635.9Z"/>
<path d="M739.5 646.1C740.1 643.2 744.3 643.2 744.9 646.1C745.5 649.1 745.5 670.9 744.9 673.9C744.3 676.8 740.1 676.8 739.5 673.9C738.9 670.9 738.9 649.1 739.5 646.1Z"/>
<path d="M677.5 664.4C678.3 663.1 684.3 663.1 685.1 664.4C685.9 665.7 685.9 675.5 685.1 676.8C684.3 678.1 678.3 678.1 677.5 676.8C676.7 675.5 676.7 665.7 677.5 664.4Z"/>
<path d="M660.0 673.9C660.5 672.6 664.0 677.8 664.4 679.7C664.7 681.6 663.7 690.1 663.2 691.4C662.7 692.6 660.3 693.2 660.0 691.4C659.7 689.5 659.5 675.1 660.0 673.9Z"/>
<path d="M661.5 634.5C661.9 633.1 666.9 632.7 668.8 633.0C670.6 633.3 677.6 635.8 679.0 637.4C680.4 638.9 682.4 646.2 681.9 647.6C681.4 649.0 676.5 650.7 674.6 650.5C672.7 650.4 665.8 647.9 664.4 646.1C663.0 644.4 661.0 635.9 661.5 634.5Z"/>
<path d="M696.5 641.8C697.8 641.1 705.4 643.4 706.7 644.7C707.9 645.9 708.9 652.2 708.1 653.4C707.4 654.7 700.9 656.7 699.4 656.4C697.9 656.0 694.6 652.1 694.3 650.5C694.0 649.0 695.2 642.4 696.5 641.8Z"/>
<path d="M728.6 647.6C729.5 646.7 737.7 651.9 738.8 653.4C739.9 655.0 739.7 661.3 738.8 662.2C737.9 663.1 731.1 663.8 730.0 662.2C728.9 660.6 727.6 648.5 728.6 647.6Z"/>
<path d="M605.4 641.8L703.8 660.0L762.1 660.0" fill="none" stroke="#151515" stroke-width="6.4" stroke-linejoin="round"/>
</g>
<g fill="none" stroke="#4a4a4a" stroke-width="0.8" stroke-linecap="round"><path d="M610.5 641.8C610.7 640.5 611.4 632.8 612.0 630.1C612.6 627.4 615.4 618.5 616.4 616.2C617.4 614.0 620.4 610.0 621.5 608.9C622.6 607.9 626.1 607.0 626.6 606.8"/><path d="M560.2 657.8C561.5 657.8 569.4 658.4 571.9 657.8C574.4 657.2 582.3 652.9 583.6 652.3"/><path d="M666.6 625.7C667.0 624.3 669.5 614.6 670.5 612.6C671.5 610.6 674.3 607.9 675.8 607.0C677.2 606.2 683.2 605.2 684.1 605.0"/><path d="M690.6 636.2C691.2 635.4 694.5 629.6 695.9 628.3C697.3 627.1 701.7 624.5 704.1 624.3C706.4 624.0 716.2 625.6 717.6 625.7"/></g>
<g fill="#a9bad0"><circle cx="593.8" cy="627.9" r="1.3"/><circle cx="587.2" cy="650.5" r="1.3"/><circle cx="614.2" cy="634.2" r="1.3"/><circle cx="621.5" cy="637.7" r="1.3"/><circle cx="609.8" cy="650.2" r="1.3"/><circle cx="617.8" cy="653.7" r="1.3"/><circle cx="637.5" cy="646.9" r="1.3"/><circle cx="645.6" cy="637.4" r="1.3"/><circle cx="639.0" cy="660.7" r="1.3"/><circle cx="646.3" cy="648.3" r="1.3"/><circle cx="663.8" cy="646.1" r="1.3"/><circle cx="674.0" cy="637.4" r="1.3"/><circle cx="665.3" cy="662.2" r="1.3"/><circle cx="671.1" cy="664.4" r="1.3"/><circle cx="673.9" cy="637.1" r="1.3"/><circle cx="668.8" cy="644.7" r="1.3"/><circle cx="674.6" cy="647.6" r="1.3"/><circle cx="664.4" cy="662.2" r="1.3"/><circle cx="693.6" cy="636.7" r="1.3"/><circle cx="692.4" cy="646.1" r="1.3"/><circle cx="699.4" cy="648.3" r="1.3"/><circle cx="692.4" cy="657.8" r="1.3"/><circle cx="693.6" cy="672.4" r="1.3"/><circle cx="737.3" cy="657.1" r="1.3"/><circle cx="744.6" cy="657.1" r="1.3"/><circle cx="746.1" cy="644.7" r="1.3"/><circle cx="746.1" cy="671.7" r="1.3"/></g>
<path d="M0 -32C8.8 -27.5 12.6 -14.4 12.6 0C12.6 14.4 8.8 27.5 0 32C-8.8 27.5 -12.6 14.4 -12.6 0C-12.6 -14.4 -8.8 -27.5 0 -32Z" fill="url(#disc)" transform="translate(714.2 665.6) rotate(7.5)"/>
<path d="M0 -32C8.5 -27.5 12.2 -14.4 12.2 0C12.2 14.4 8.5 27.5 0 32C-8.5 27.5 -12.2 14.4 -12.2 0C-12.2 -14.4 -8.5 -27.5 0 -32Z" fill="url(#disc)" transform="translate(767 664.6) rotate(8)"/>
<ellipse cx="716.5" cy="666" rx="4.6" ry="17" fill="none" stroke="#6a5c2c" stroke-width="0.7" opacity="0.55" transform="rotate(7 716.5 666)"/>
<ellipse cx="768.6" cy="665" rx="4.6" ry="17" fill="none" stroke="#6a5c2c" stroke-width="0.7" opacity="0.55" transform="rotate(7 768.6 665)"/>
<g id="euro">
<circle cx="214.4" cy="488.8" r="37.4" fill="#454545"/>
<circle cx="212" cy="486.4" r="37.6" fill="#ffffff"/>
<path d="M177.4 500A37.2 37.2 0 0 0 247.6 499" fill="none" stroke="#1c5a22" stroke-width="2.6"/>
<path d="M175.6 478C178 462 194 450 213 449.4C224 449.4 231 453 235 458.4C227 465.4 214 469.4 200 469C190 468.8 181 471.4 175.6 478Z" fill="#ffffff" stroke="#1c5a22" stroke-width="2.3" stroke-linejoin="round"/>
<path d="M178.6 474C192 461.4 212 455.6 231.6 458.6" fill="none" stroke="#1c5a22" stroke-width="1.1"/>
<path d="M235 458.4C244 466 249.4 478 249 492" fill="none" stroke="#1c5a22" stroke-width="2.2"/>
<path d="M174.8 482C174 490 175.4 496 177.4 500" fill="none" stroke="#1c5a22" stroke-width="1.4"/>
<text x="185.6" y="488.6" font-family="Liberation Sans, sans-serif" font-weight="bold" font-style="italic" font-size="14" fill="#1a6427" stroke="#1a6427" stroke-width="0.7" textLength="47" lengthAdjust="spacingAndGlyphs">EURO</text>
<text x="201" y="506.8" font-family="Liberation Sans, sans-serif" font-weight="bold" font-style="italic" font-size="19" fill="#1a6427" stroke="#1a6427" stroke-width="0.6" textLength="17" lengthAdjust="spacingAndGlyphs">V</text>
<path d="M197 508l6-1M196 505l5-1M198 502l4-1" stroke="#1a6427" stroke-width="0.8" opacity="0.6"/>
</g>
</svg>
<!--/ART-->

<div class="vsep" style="left:310.2px"></div>
<div class="vsep" style="left:443.8px"></div>

<div class="b" style="left:428.5px;top:146px;width:71.5px;height:21.6px"></div>
<div class="b" style="left:192px;top:182px;width:122px;height:24px"></div>
<div class="b" style="left:116.5px;top:259.9px;width:198.5px;height:36.6px"></div>
<div class="b" style="left:637.6px;top:282.4px;width:142.8px;height:23.4px"></div>
<div class="b" style="left:550.1px;top:335.6px;width:84.4px;height:21.2px"></div>
<div class="b" style="left:589.1px;top:375.4px;width:183.8px;height:22.3px"></div>
<div class="b" style="left:568.9px;top:443.1px;width:221.8px;height:38.2px"></div>
<div class="b" style="left:563px;top:522.7px;width:219.6px;height:38.8px"></div>
<div class="b" style="left:368.6px;top:612.6px;width:162.3px;height:37.4px"></div>

<!--TEXT-->
<span class="t" style="left:143.6px;top:26.67px;font-size:22.6px;line-height:22.6px;font-weight:bold;color:#127c87;transform:scaleX(1.1085);-webkit-text-stroke:0.45px #127c87">GASOLINE</span>
<span class="t" style="left:284.0px;top:26.67px;font-size:22.6px;line-height:22.6px;font-weight:bold;color:#127c87;transform:scaleX(1.1594);-webkit-text-stroke:0.45px #127c87">CULTIVATOR</span>
<span class="t" style="left:454.7px;top:26.67px;font-size:22.6px;line-height:22.6px;font-weight:bold;color:#127c87;transform:scaleX(1.0513);-webkit-text-stroke:0.45px #127c87">KS</span>
<span class="t" style="left:495.7px;top:26.67px;font-size:22.6px;line-height:22.6px;font-weight:bold;color:#127c87;transform:scaleX(1.2358);-webkit-text-stroke:0.45px #127c87">9HP−1350G−3</span>
<span class="t" style="left:690.0px;top:26.67px;font-size:22.6px;line-height:22.6px;font-weight:bold;color:#127c87;transform:scaleX(1.2512);-webkit-text-stroke:0.45px #127c87">(500)</span>
<span class="t" style="left:335.4px;top:60.66px;font-size:15.4px;line-height:15.4px;font-weight:normal;color:#8e9093;transform:scaleX(0.9870)">DIRECT DRIVE WITH GEARBOX</span>
<span class="t" style="left:192.3px;top:95.44px;font-size:13.3px;line-height:13.3px;font-weight:normal;color:#55575a;transform:scaleX(0.9579);-webkit-text-stroke:0.4px #55575a">ENGINE POWER</span>
<span class="t" style="left:216.5px;top:113.80px;font-size:16.3px;line-height:16.3px;font-weight:bold;color:#1c1c1e;transform:scaleX(1.0747)">9.0 HP</span>
<span class="t" style="left:330.6px;top:95.44px;font-size:13.3px;line-height:13.3px;font-weight:normal;color:#55575a;transform:scaleX(0.9742);-webkit-text-stroke:0.4px #55575a">TILLING WIDTH</span>
<span class="t" style="left:340.1px;top:113.80px;font-size:16.3px;line-height:16.3px;font-weight:bold;color:#1c1c1e;transform:scaleX(1.0773)">≤ 134 cm</span>
<span class="t" style="left:552.9px;top:95.44px;font-size:13.3px;line-height:13.3px;font-weight:normal;color:#55575a;transform:scaleX(0.9579);-webkit-text-stroke:0.4px #55575a">GEARBOX</span>
<span class="t" style="left:462.0px;top:113.80px;font-size:16.3px;line-height:16.3px;font-weight:bold;color:#1c1c1e;transform:scaleX(0.9868)">DIRECT DRIVE WITH GEARBOX</span>
<span class="t" style="left:434.2px;top:150.33px;font-size:13.2px;line-height:13.2px;font-weight:bold;color:#ffffff;transform:scaleX(0.9389)">TOOLBOX</span>
<span class="t" style="left:196.5px;top:187.33px;font-size:13.2px;line-height:13.2px;font-weight:bold;color:#ffffff;transform:scaleX(0.8800)">EXCLUSIVE DESIGN</span>
<span class="t" style="left:123.5px;top:264.73px;font-size:13.2px;line-height:13.2px;font-weight:bold;color:#ffffff;transform:scaleX(0.8980)">ROBUST PROPRIETARY ENGINE</span>
<span class="t" style="left:123.5px;top:279.63px;font-size:13.2px;line-height:13.2px;font-weight:bold;color:#ffffff;transform:scaleX(0.9282)">FROM KÖNNER &amp; SÖHNEN</span>
<span class="t" style="left:641.1px;top:287.73px;font-size:13.2px;line-height:13.2px;font-weight:bold;color:#ffffff;transform:scaleX(0.8795)">ADJUSTABLE HANDLES</span>
<span class="t" style="left:553.9px;top:339.73px;font-size:13.2px;line-height:13.2px;font-weight:bold;color:#ffffff;transform:scaleX(0.8690)">GEAR LEVER</span>
<span class="t" style="left:592.9px;top:379.33px;font-size:13.2px;line-height:13.2px;font-weight:bold;color:#ffffff;transform:scaleX(0.9109)">ADJUSTABLE PLOW HOLDER</span>
<span class="t" style="left:573.7px;top:447.73px;font-size:13.2px;line-height:13.2px;font-weight:bold;color:#ffffff;transform:scaleX(0.8987)">ARE SUITABLE FOR</span>
<span class="t" style="left:573.7px;top:462.73px;font-size:13.2px;line-height:13.2px;font-weight:bold;color:#ffffff;transform:scaleX(0.9662)">ACCOMMODATING ATTACHMENTS</span>
<span class="t" style="left:568.2px;top:528.03px;font-size:13.2px;line-height:13.2px;font-weight:bold;color:#ffffff;transform:scaleX(0.8949)">FORGED SABER-SHAPED CUTTERS</span>
<span class="t" style="left:568.2px;top:543.03px;font-size:13.2px;line-height:13.2px;font-weight:bold;color:#ffffff;transform:scaleX(0.9287)">WITH PLANT SHIELDS</span>
<span class="t" style="left:374.4px;top:617.53px;font-size:13.2px;line-height:13.2px;font-weight:bold;color:#ffffff;transform:scaleX(0.9215)">HIGH-TREAD PNEUMATIC</span>
<span class="t" style="left:374.4px;top:632.43px;font-size:13.2px;line-height:13.2px;font-weight:bold;color:#ffffff;transform:scaleX(0.8596)">WHEELS</span>
<span class="t" style="left:192.0px;top:209.49px;font-size:11px;line-height:11px;font-weight:bold;color:#5b5e61;transform:scaleX(0.9051)">reinforced frame structure</span>
<span class="t" style="left:192.0px;top:221.09px;font-size:11px;line-height:11px;font-weight:bold;color:#5b5e61;transform:scaleX(0.9051)">and reflective elements for</span>
<span class="t" style="left:192.0px;top:232.69px;font-size:11px;line-height:11px;font-weight:bold;color:#5b5e61;transform:scaleX(0.9051)">enhanced user safety</span>
<span class="t" style="left:188.0px;top:299.89px;font-size:11px;line-height:11px;font-weight:bold;color:#5b5e61;transform:scaleX(0.8955)">conform to the standard</span>
<span class="t" style="left:188.0px;top:311.49px;font-size:11px;line-height:11px;font-weight:bold;color:#5b5e61;transform:scaleX(0.8955)">of emission EURO V</span>
<span class="t" style="left:637.6px;top:309.19px;font-size:11px;line-height:11px;font-weight:bold;color:#5b5e61;transform:scaleX(0.8939)">180° vertically and 360°</span>
<span class="t" style="left:637.6px;top:320.59px;font-size:11px;line-height:11px;font-weight:bold;color:#5b5e61;transform:scaleX(0.8939)">horizontally</span>
<span class="t" style="left:550.4px;top:359.19px;font-size:11px;line-height:11px;font-weight:bold;color:#5b5e61;transform:scaleX(0.8563)">+3 +2 +1 0 –1</span>
<span class="t" style="left:589.7px;top:400.49px;font-size:11px;line-height:11px;font-weight:bold;color:#5b5e61;transform:scaleX(0.8770)">for easy and quick selection of</span>
<span class="t" style="left:589.7px;top:411.99px;font-size:11px;line-height:11px;font-weight:bold;color:#5b5e61;transform:scaleX(0.8770)">plowing depth</span>
<span class="t" style="left:563.0px;top:564.29px;font-size:11px;line-height:11px;font-weight:bold;color:#5b5e61;transform:scaleX(0.8661)">allow processing any types of soil</span>
<span class="t" style="left:563.0px;top:575.49px;font-size:11px;line-height:11px;font-weight:bold;color:#5b5e61;transform:scaleX(0.8661)">(tilling width ≤ 134 cm)</span>
<span class="t" style="left:369.0px;top:652.39px;font-size:11px;line-height:11px;font-weight:bold;color:#5b5e61;transform:scaleX(0.8629)">5.00-12"</span>
<span class="t" style="left:554.8px;top:191.81px;font-size:9.2px;line-height:9.2px;font-weight:bold;color:#111;transform:scaleX(0.9308)">180°</span>
<span class="t" style="left:422.5px;top:264.51px;font-size:9.2px;line-height:9.2px;font-weight:bold;color:#111;transform:scaleX(0.9676)">360°</span>
<!--/TEXT-->
</body>
</html>
